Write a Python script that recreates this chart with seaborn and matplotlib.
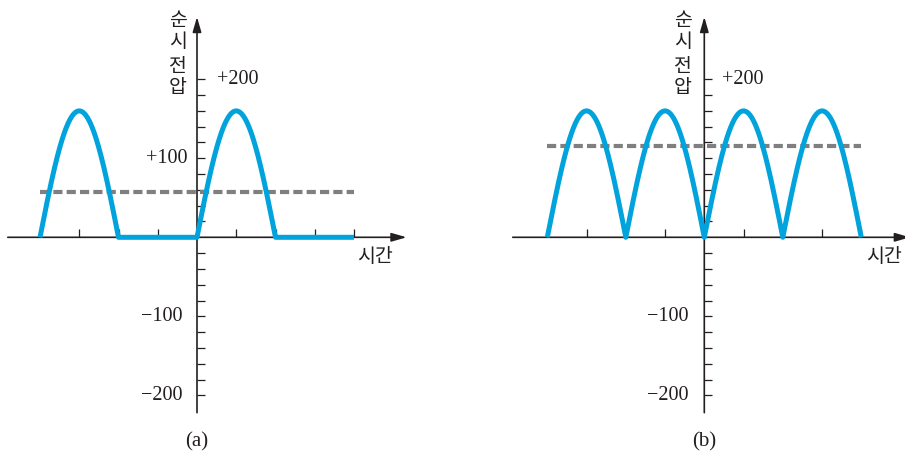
import numpy as np
import pandas as pd
import matplotlib
matplotlib.use("Agg")
import matplotlib.pyplot as plt
import seaborn as sns

# Rectified sine waveforms (time measured in half-periods of the source)
time_start, time_end = -2.0, 2.0
time_ticks = [-2.0, -1.5, -1.0, -0.5, 0.5, 1.0, 1.5, 2.0]
volt_ticks = [v for v in range(-200, 201, 20) if v != 0]
peak_voltage = 160
half_wave_average = 57
full_wave_average = 115
panel_names = ["(a)", "(b)"]
y_label_chars = ["순", "시", "전", "압"]
y_label_heights = [274, 248, 216, 189]
x_label = "시간"

sns.set_style("white")
plt.rcParams["font.family"] = ["Liberation Serif", "DejaVu Sans"]

BLUE = "#00a3dc"
GRAY = "#7f7f7f"
INK = "#231f20"
KFONT = ["Noto Sans CJK KR", "DejaVu Sans"]

t = np.linspace(time_start, time_end, 801)
src = np.sin(np.pi * t)
frames = {
    "half": pd.DataFrame({"t": t, "v": peak_voltage * np.clip(src, 0, None)}),
    "full": pd.DataFrame({"t": t, "v": peak_voltage * np.abs(src)}),
}
averages = {"half": half_wave_average, "full": full_wave_average}

fig = plt.figure(figsize=(9.05, 4.54), dpi=100)
W, H = 905.0, 454.0
XS = 78.5          # pixels per time unit
YS = 0.79          # pixels per volt
Y0 = 237.3         # pixel row of zero volts
ytop = Y0 / YS
ybot = ytop - H / YS

specs = [
    dict(key="half", x0=197.0, xlim=(-2.5, 2.7), xaxis=(-2.41, 2.67),
         p200=0.255, p100=-0.127, m_right=-0.19, ylab_x=-0.242, xlab_x=2.04,
         show100=True),
    dict(key="full", x0=704.3, xlim=(-2.5, 2.6), xaxis=(-2.44, 2.62),
         p200=0.225, p100=None, m_right=-0.195, ylab_x=-0.27, xlab_x=2.06,
         show100=False),
]

for name, sp in zip(panel_names, specs):
    left_px = sp["x0"] + sp["xlim"][0] * XS
    width_px = (sp["xlim"][1] - sp["xlim"][0]) * XS
    ax = fig.add_axes([left_px / W, 0, width_px / W, 1])
    ax.set_xlim(*sp["xlim"])
    ax.set_ylim(ybot, ytop)
    ax.patch.set_visible(False)

    # spines placed at zero so the ticks sit on the drawn axes
    ax.spines["left"].set_position("zero")
    ax.spines["bottom"].set_position("zero")
    for s in ax.spines.values():
        s.set_visible(False)
    ax.set_xticks(time_ticks)
    ax.set_yticks(volt_ticks)
    ax.tick_params(axis="both", direction="in", length=6, width=0.9,
                   color=INK, labelleft=False, labelbottom=False,
                   left=True, bottom=True)

    arrow = dict(arrowstyle="-|>,head_length=0.9,head_width=0.26",
                 mutation_scale=10, color=INK, lw=1.2,
                 shrinkA=0, shrinkB=0)
    ax.annotate("", xy=(sp["xaxis"][1], 0), xytext=(sp["xaxis"][0], 0),
                arrowprops=arrow, annotation_clip=False, zorder=3)
    ax.annotate("", xy=(0, 279), xytext=(0, -222),
                arrowprops=arrow, annotation_clip=False, zorder=3)

    df = frames[sp["key"]]
    avg = averages[sp["key"]]
    sns.lineplot(x=[time_start, time_end], y=[avg, avg], ax=ax, color=GRAY,
                 lw=3, linestyle=(0, (2.2, 1.0)), zorder=3.5)
    sns.lineplot(data=df, x="t", y="v", ax=ax, color=BLUE, lw=3.6,
                 zorder=4, solid_capstyle="butt")
    ax.set_xlabel("")
    ax.set_ylabel("")

    fs = 14.5
    ax.text(sp["p200"], 200, "+200", ha="left", va="center", fontsize=fs,
            color=INK)
    if sp["show100"]:
        ax.text(sp["p100"], 100, "+100", ha="right", va="center",
                fontsize=fs, color=INK)
    ax.text(sp["m_right"], -100, "\u2212100", ha="right", va="center",
            fontsize=fs, color=INK)
    ax.text(sp["m_right"], -200, "\u2212200", ha="right", va="center",
            fontsize=fs, color=INK)

    for ch, yv in zip(y_label_chars, y_label_heights):
        ax.text(sp["ylab_x"], yv, ch, ha="center", va="center",
                fontsize=14, family=KFONT, color=INK)
    ax.text(sp["xlab_x"], -24, x_label, ha="left", va="center",
            fontsize=14, family=KFONT, color=INK)
    ax.text(0, -259, name, ha="center", va="center", fontsize=15, color=INK)

fig.savefig("out.png", dpi=100)
